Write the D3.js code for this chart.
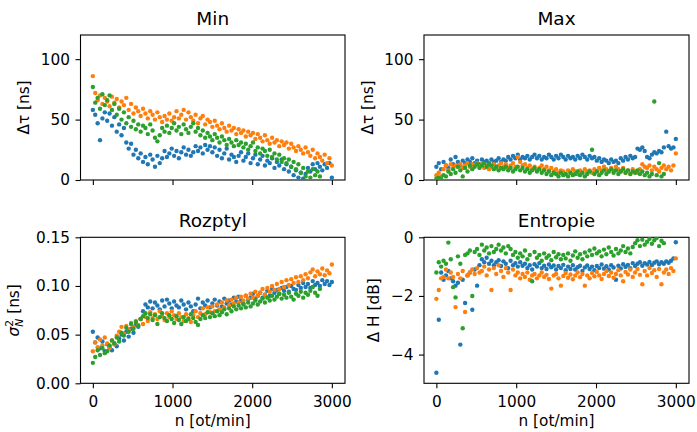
<!DOCTYPE html>
<html>
<head>
<meta charset="utf-8">
<script src="https://cdn.jsdelivr.net/npm/d3@7"></script>
<style>
body { margin: 0; background: #fff; }
svg { font-family: "DejaVu Sans", sans-serif; display: block; }
</style>
</head>
<body>
<svg></svg>
<script>
const width = 697;
const height = 432;
const colors = ['#1f77b4', '#ff7f0e', '#2ca02c'];

// speed grid [ot/min]; the green run stops at 2850
const n = [
  0, 30, 60, 90, 120, 150, 180, 210, 240, 270,
  300, 330, 360, 390, 420, 450, 480, 510, 540, 570,
  600, 630, 660, 690, 720, 750, 780, 810, 840, 870,
  900, 930, 960, 990, 1020, 1050, 1080, 1110, 1140, 1170,
  1200, 1230, 1260, 1290, 1320, 1350, 1380, 1410, 1440, 1470,
  1500, 1530, 1560, 1590, 1620, 1650, 1680, 1710, 1740, 1770,
  1800, 1830, 1860, 1890, 1920, 1950, 1980, 2010, 2040, 2070,
  2100, 2130, 2160, 2190, 2220, 2250, 2280, 2310, 2340, 2370,
  2400, 2430, 2460, 2490, 2520, 2550, 2580, 2610, 2640, 2670,
  2700, 2730, 2760, 2790, 2820, 2850, 2880, 2910, 2940, 2970,
  3000
];

const xTicks = [0, 1000, 2000, 3000];

// Min
const minBlue = [
  58, 54, 47, 33, 51, 56, 49, 55, 45, 52,
  40, 46, 37, 43, 31, 26, 30, 21, 25, 18,
  22, 15, 19, 13, 21, 17, 11, 20, 14, 18,
  24, 19, 22, 26, 20, 24, 18, 23, 27, 21,
  25, 20, 23, 28, 24, 27, 22, 29, 25, 28,
  23, 27, 20, 25, 18, 22, 26, 17, 21, 19,
  15, 20, 23, 16, 19, 22, 14, 18, 21, 13,
  17, 20, 12, 16, 14, 18, 10, 15, 12, 17,
  9, 13, 7, 11, 4, 8, 2, 6, 1, 5,
  10, 7, 13, 9, 14, 11, 8, 13, 10, 14,
  2
];
const minOrange = [
  86, 72, 66, 70, 63, 68, 65, 61, 69, 64,
  67, 60, 65, 62, 68, 58, 63, 55, 60, 57,
  53, 59, 55, 51, 57, 54, 50, 56, 52, 48,
  53, 50, 55, 49, 52, 57, 51, 54, 58, 50,
  56, 52, 49, 54, 47, 51, 53, 46, 50, 48,
  44, 49, 45, 42, 47, 43, 40, 45, 41, 43,
  38, 42, 39, 41, 36, 40, 37, 39, 34, 38,
  35, 32, 37, 33, 30, 35, 31, 33, 28, 32,
  29, 31, 26, 30, 27, 24, 28, 25, 22, 27,
  23, 20, 25, 18, 22, 19, 16, 21, 14, 18,
  12
];
const minGreen = [
  77, 64, 68, 59, 71, 62, 66, 70, 58, 63,
  54, 59, 50, 56, 47, 52, 44, 49, 42, 46,
  40, 45, 43, 38, 46, 41, 35, 32, 37, 43,
  40, 45, 39, 43, 47, 41, 44, 38, 46, 42,
  39, 44, 47, 40, 43, 37, 41, 35, 39, 36,
  33, 38, 35, 31, 36, 33, 29, 34, 31, 28,
  33, 29, 31, 27, 30, 25, 28, 31, 24, 27,
  22, 26, 24, 20, 25, 19, 22, 17, 21, 15,
  18, 14, 17, 11, 15, 9, 13, 6, 10, 3,
  7, 2, 9, 4, 7, 3
];

// Max
const maxBlue = [
  11, 14, 9, 15, 12, 10, 17, 13, 19, 15,
  12, 16, 14, 17, 15, 18, 14, 16, 13, 17,
  15, 16, 14, 17, 15, 16, 18, 15, 17, 16,
  19, 17, 20, 18, 21, 17, 19, 18, 20, 17,
  19, 21, 18, 20, 17, 19, 18, 21, 19, 17,
  20, 18, 21, 19, 17, 20, 18, 19, 17, 20,
  18, 21, 19, 17, 20, 18, 19, 16, 18, 15,
  17, 16, 14, 17, 15, 16, 14, 18, 16, 19,
  17, 20, 18, 19, 26, 25, 27, 24, 19, 18,
  21, 23, 22, 24, 23, 27, 40, 28, 26, 27,
  34
];
const maxOrange = [
  4, 6, 3, 9, 12, 8, 13, 10, 12, 11,
  13, 10, 12, 14, 11, 13, 12, 14, 11, 13,
  10, 12, 9, 11, 13, 10, 12, 14, 11, 13,
  10, 12, 14, 11, 19, 15, 12, 13, 10, 12,
  9, 11, 8, 10, 12, 9, 11, 8, 10, 7,
  9, 6, 8, 7, 5, 8, 6, 9, 7, 5,
  8, 6, 9, 7, 8, 6, 9, 7, 10, 8,
  11, 9, 7, 10, 8, 11, 9, 7, 10, 6,
  8, 5, 9, 7, 6, 9, 13, 11, 10, 12,
  8, 11, 9, 7, 10, 12, 9, 11, 8, 12,
  22
];
const maxGreen = [
  1, 2, 1, 4, 3, 7, 5, 9, 6, 11,
  8, 3, 10, 7, 12, 9, 11, 13, 10, 12,
  14, 11, 13, 12, 9, 11, 8, 10, 9, 11,
  8, 10, 7, 9, 11, 8, 10, 7, 9, 6,
  8, 10, 7, 9, 6, 8, 5, 7, 4, 6,
  5, 3, 6, 4, 5, 3, 6, 4, 5, 7,
  4, 6, 3, 5, 7, 25, 5, 7, 4, 6,
  8, 5, 7, 9, 6, 8, 5, 7, 9, 6,
  8, 5, 7, 6, 8, 5, 7, 4, 6, 3,
  5, 65, 4, 14, 3, 5
];

// Rozptyl
const varBlue = [
  .053, .042, .047, .036, .043, .033, .040, .037, .034, .041,
  .038, .046, .050, .044, .053, .048, .056, .052, .060, .058,
  .066, .074, .081, .078, .084, .077, .083, .080, .076, .085,
  .079, .086, .082, .077, .084, .080, .078, .085, .081, .076,
  .083, .079, .074, .081, .087, .077, .083, .080, .085, .078,
  .082, .086, .080, .084, .079, .087, .082, .085, .081, .088,
  .084, .089, .085, .082, .090, .086, .088, .092, .087, .090,
  .093, .088, .091, .095, .090, .097, .093, .096, .092, .098,
  .095, .099, .094, .100, .097, .096, .101, .098, .103, .099,
  .102, .098, .105, .101, .103, .100, .106, .102, .105, .101,
  .104
];
const varOrange = [
  .033, .042, .037, .045, .039, .047, .041, .036, .044, .040,
  .049, .053, .058, .051, .059, .055, .062, .058, .064, .060,
  .066, .061, .068, .064, .073, .067, .071, .066, .074, .069,
  .065, .072, .068, .074, .070, .066, .072, .068, .064, .071,
  .067, .063, .070, .074, .068, .072, .077, .071, .078, .073,
  .079, .074, .081, .076, .083, .078, .085, .080, .086, .082,
  .088, .083, .089, .085, .090, .087, .092, .088, .094, .090,
  .093, .097, .091, .098, .094, .100, .096, .102, .097, .104,
  .099, .106, .101, .107, .103, .109, .104, .110, .106, .112,
  .108, .114, .117, .110, .115, .112, .118, .111, .116, .113,
  .122
];
const varGreen = [
  .021, .027, .034, .029, .036, .031, .033, .039, .044, .041,
  .047, .043, .052, .049, .057, .053, .061, .056, .063, .059,
  .066, .069, .072, .067, .071, .065, .070, .061, .068, .072,
  .067, .064, .070, .066, .062, .069, .065, .061, .068, .064,
  .066, .071, .067, .063, .060, .066, .070, .067, .073, .068,
  .072, .069, .074, .070, .073, .076, .071, .077, .074, .079,
  .076, .080, .077, .081, .078, .083, .079, .082, .085, .081,
  .084, .087, .083, .088, .085, .090, .086, .089, .092, .087,
  .091, .088, .093, .089, .086, .092, .090, .094, .088, .093,
  .091, .095, .099, .093, .090, .097
];

// Entropie
const entBlue = [
  -4.62, -2.81, -1.2, -1.45, -1.3, -1.15, -1.4, -1.5, -1.65, -1.55,
  -3.66, -1.45, -2.24, -1.3, -1.2, -2.47, -1.1, -1.65, -0.95, -0.75,
  -0.85, -0.7, -0.9, -0.8, -0.95, -0.85, -0.78, -0.98, -0.82, -0.9,
  -1.05, -0.8, -0.95, -0.88, -1.0, -0.85, -0.97, -0.9, -1.05, -0.95,
  -1.1, -0.92, -1.0, -0.88, -1.05, -0.97, -1.08, -0.93, -1.02, -0.96,
  -1.1, -0.98, -1.05, -0.94, -1.12, -1.0, -1.08, -0.95, -1.1, -1.02,
  -0.97, -1.15, -1.03, -0.96, -1.08, -1.0, -1.12, -0.98, -1.05, -0.93,
  -1.07, -0.99, -1.1, -0.95, -1.03, -1.45, -0.97, -1.06, -0.92, -1.01,
  -0.94, -1.05, -0.88, -0.98, -0.9, -0.85, -0.97, -0.88, -0.93, -0.84,
  -0.95, -0.87, -0.82, -0.92, -0.85, -0.9, -0.82, -0.87, -0.8, -0.72,
  -0.17
];
const entOrange = [
  -2.1, -1.8, -1.4, -1.35, -1.1, -1.4, -1.2, -1.35, -2.38, -1.25,
  -1.4, -1.15, -2.55, -1.3, -1.2, -1.1, -1.25, -1.05, -1.2, -1.15,
  -1.0, -1.3, -1.1, -1.8, -1.05, -1.25, -0.95, -1.15, -1.35, -1.05,
  -1.2, -1.8, -1.1, -1.3, -1.2, -1.4, -1.25, -1.35, -1.2, -1.45,
  -1.3, -1.25, -1.4, -1.3, -1.2, -1.35, -1.28, -1.42, -1.75, -1.3,
  -1.25, -1.4, -1.65, -1.32, -1.22, -1.38, -1.27, -1.43, -1.3, -1.2,
  -1.36, -1.25, -1.65, -1.3, -1.4, -1.22, -1.33, -1.18, -1.3, -1.42,
  -1.25, -1.15, -1.32, -1.2, -1.38, -1.25, -1.12, -1.3, -1.5, -1.18,
  -1.27, -1.1, -1.35, -1.2, -1.08, -1.28, -1.6, -1.15, -1.3, -1.05,
  -1.22, -1.12, -1.35, -1.08, -1.6, -1.2, -1.1, -1.25, -1.05, -1.15,
  -0.72
];
const entGreen = [
  -1.2, -0.85, -1.0, -0.8, -0.9, -0.18, -0.75, -1.7, -2.05, -0.65,
  -0.9, -3.1, -0.6, -0.55, -0.45, -2.0, -0.5, -0.4, -0.6, -0.25,
  -0.45, -0.35, -0.55, -0.3, -0.5, -0.4, -0.25, -0.45, -0.35, -0.55,
  -0.3, -0.4, -0.6, -0.5, -0.7, -0.55, -0.65, -0.45, -0.75, -0.6,
  -1.5, -0.5, -0.7, -0.6, -0.8, -0.55, -0.7, -0.62, -0.78, -0.5,
  -0.68, -0.58, -0.75, -0.6, -0.72, -0.55, -0.8, -0.62, -0.48, -0.7,
  -0.58, -0.75, -0.52, -0.65, -0.45, -0.6, -0.38, -0.55, -0.48, -0.65,
  -0.42, -0.58, -0.35, -0.5, -0.62, -0.4, -0.55, -0.45, -0.3, -0.5,
  -0.38, -0.55, -0.33, -0.2, -0.1, -0.3, -0.08, -0.25, -0.15, -0.05,
  -0.22, -0.1, -0.02, -0.3, -0.12, -0.2
];

const panels = [
  { title: 'Min', ylabel: 'Δτ [ns]', yDomain: [0, 120], yTicks: [0, 50, 100],
    yTickLabels: ['0', '50', '100'], series: [minBlue, minOrange, minGreen] },
  { title: 'Max', ylabel: 'Δτ [ns]', yDomain: [0, 120], yTicks: [0, 50, 100],
    yTickLabels: ['0', '50', '100'], series: [maxBlue, maxOrange, maxGreen] },
  { title: 'Rozptyl', ylabel: 'sigma', yDomain: [0, 0.15], yTicks: [0, 0.05, 0.10, 0.15],
    yTickLabels: ['0.00', '0.05', '0.10', '0.15'], series: [varBlue, varOrange, varGreen] },
  { title: 'Entropie', ylabel: 'Δ H [dB]', yDomain: [-4.98, 0], yTicks: [-4, -2, 0],
    yTickLabels: ['\u22124', '\u22122', '0'], series: [entBlue, entOrange, entGreen] }
];

// layout
const boxes = [
  { left: 80.5, top: 35, w: 264.5, h: 145, labelX: 29, xLabels: false },
  { left: 424, top: 35, w: 265, h: 145, labelX: 373, xLabels: false },
  { left: 80.5, top: 237.3, w: 264.5, h: 146, labelX: 19, xLabels: true },
  { left: 424, top: 237.3, w: 265, h: 146, labelX: 379, xLabels: true }
];
const fontTick = 15.3;
const fontTitle = 18.5;

let svg = d3.select('svg')
  .attr('width', width)
  .attr('height', height);

function drawPanel(p, b, idx) {
  let xScale = d3.scaleLinear().domain([-155, 3165]).range([0, b.w]);
  let yScale = d3.scaleLinear().domain(p.yDomain).range([b.h, 0]);

  let g = svg.append('g').attr('transform', 'translate(' + b.left + ',' + b.top + ')');

  svg.append('clipPath').attr('id', 'clip' + idx)
    .append('rect').attr('x', b.left).attr('y', b.top).attr('width', b.w).attr('height', b.h);

  // dots, default colour cycle order
  let dots = svg.append('g').attr('clip-path', 'url(#clip' + idx + ')')
    .append('g').attr('transform', 'translate(' + b.left + ',' + b.top + ')');
  p.series.forEach((vals, s) => {
    dots.append('g').selectAll('circle')
      .data(vals)
      .enter()
      .append('circle')
      .attr('cx', (d, i) => xScale(n[i]))
      .attr('cy', d => yScale(d))
      .attr('r', 2.2)
      .attr('fill', colors[s]);
  });

  let xAxis = d3.axisBottom(xScale).tickValues(xTicks).tickSize(5).tickPadding(8)
    .tickFormat(b.xLabels ? d3.format('d') : '');
  let yAxis = d3.axisLeft(yScale).tickValues(p.yTicks).tickSize(5).tickPadding(5.5)
    .tickFormat((d, i) => p.yTickLabels[i]);

  let gx = g.append('g').attr('transform', 'translate(0,' + b.h + ')').call(xAxis);
  let gy = g.append('g').call(yAxis);
  [gx, gy].forEach(a => {
    a.select('.domain').remove();
    a.selectAll('line').attr('stroke', '#000').attr('stroke-width', 1.1);
    a.selectAll('text').attr('fill', '#000').style('font-size', fontTick + 'px')
      .style('font-family', '"DejaVu Sans", sans-serif');
  });

  g.append('rect')
    .attr('width', b.w).attr('height', b.h)
    .attr('fill', 'none').attr('stroke', '#000').attr('stroke-width', 1.1);

  g.append('text')
    .attr('x', b.w / 2).attr('y', -10)
    .attr('text-anchor', 'middle')
    .style('font-size', fontTitle + 'px')
    .text(p.title);

  let yl = svg.append('text')
    .attr('transform', 'translate(' + b.labelX + ',' + (b.top + b.h / 2) + ') rotate(-90)')
    .attr('text-anchor', 'middle')
    .style('font-size', fontTick + 'px');
  if (p.ylabel === 'sigma') {
    yl.append('tspan').attr('font-style', 'italic').text('σ');
    yl.append('tspan').style('font-size', '10.7px').attr('dy', -6).text('2');
    yl.append('tspan').style('font-size', '10.7px').attr('font-style', 'italic')
      .attr('dx', -6.8).attr('dy', 9.5).text('N');
    yl.append('tspan').attr('dy', -3.5).text(' [ns]');
  } else {
    yl.text(p.ylabel);
  }

  if (b.xLabels) {
    g.append('text')
      .attr('x', b.w / 2).attr('y', b.h + 43)
      .attr('text-anchor', 'middle')
      .style('font-size', fontTick + 'px')
      .text('n [ot/min]');
  }
}

function main() {
  panels.forEach((p, i) => drawPanel(p, boxes[i], i));
}

main()
</script>
</body>
</html>
